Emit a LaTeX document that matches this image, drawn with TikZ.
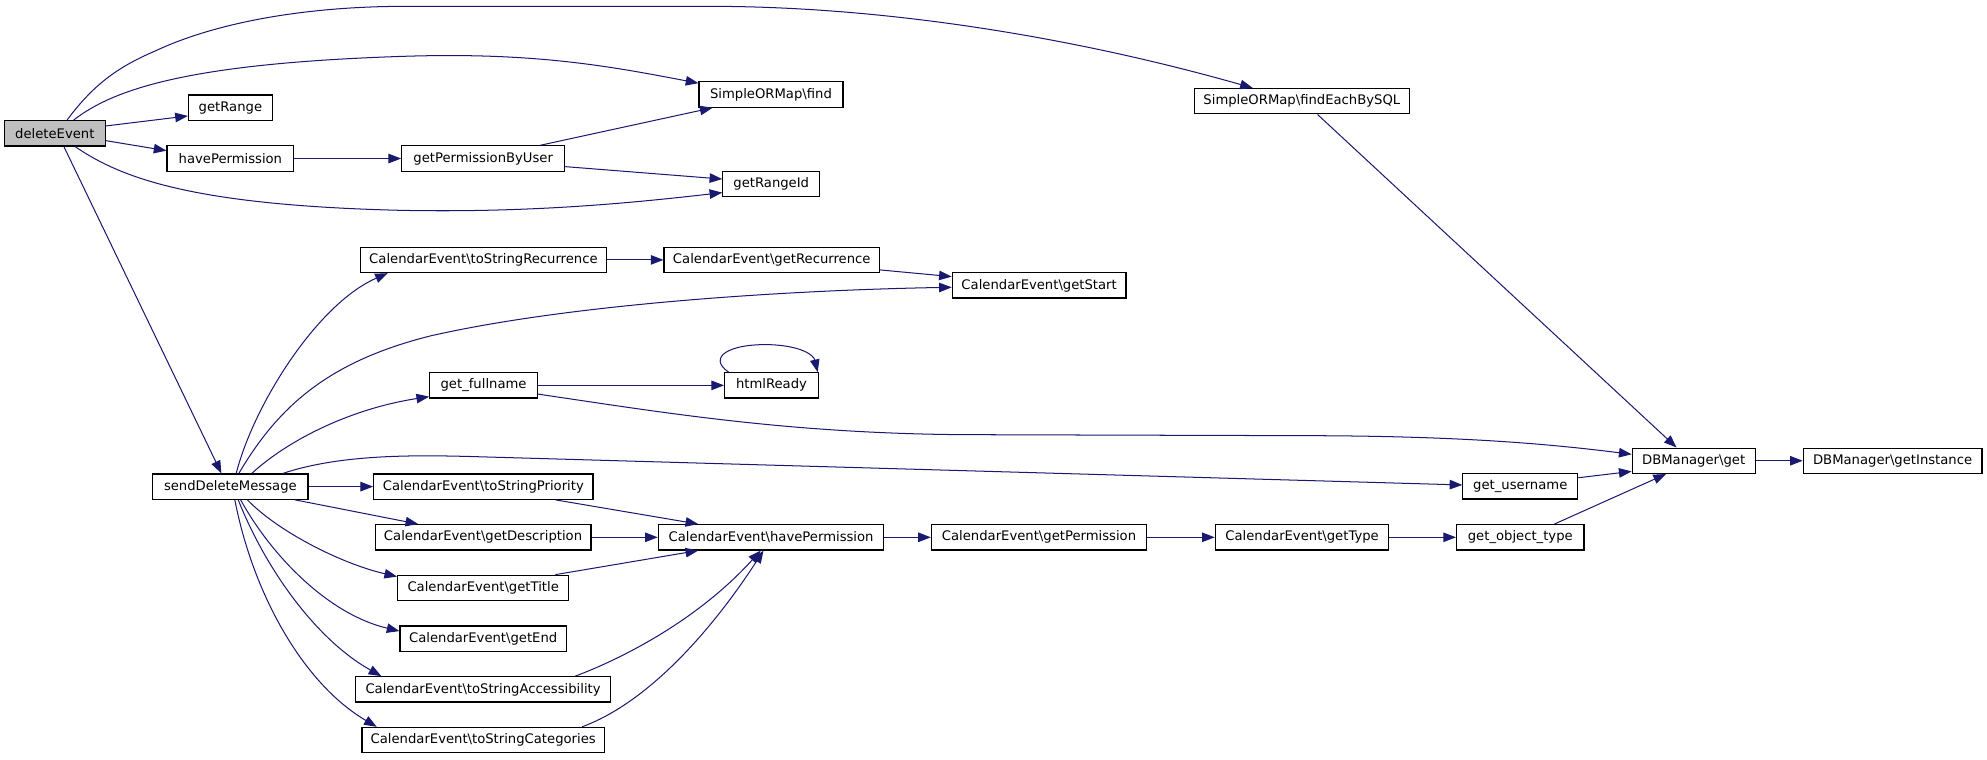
\documentclass[tikz,border=0pt]{standalone}
\usepackage{fontspec}
\setmainfont{DejaVu Sans}
\usetikzlibrary{arrows.meta}
\definecolor{edgeblue}{RGB}{25,25,112}
\definecolor{rootgray}{RGB}{191,191,191}
\tikzset{
  fn/.style={draw=black, line width=0.9pt, fill=white, rectangle, inner sep=0pt,
    minimum height=20pt, font=\fontsize{10.4}{12}\selectfont},
  rootfn/.style={fn, fill=rootgray},
  call/.style={draw=edgeblue, line width=0.8pt,
    -{Triangle[length=10pt,width=7.5pt]}, fill=none},
}
\begin{document}
\begin{tikzpicture}[x=1pt,y=-1pt]
\useasboundingbox (0,0) rectangle (1568,599);
% nodes
\node[rootfn, minimum width=79.6] (deleteEvent) at (43.3,105.2) {deleteEvent};
\node[fn, minimum width=66.2] (getRange) at (181.8,85) {getRange};
\node[fn, minimum width=100] (havePermission) at (181.8,125.1) {havePermission};
\node[fn, minimum width=128.6] (getPermissionByUser) at (381.3,125.1) {getPermissionByUser};
\node[fn, minimum width=113.6] (find) at (608.4,74.6) {SimpleORMap\textbackslash find};
\node[fn, minimum width=76.4] (getRangeId) at (608.6,145.1) {getRangeId};
\node[fn, minimum width=169.3] (findEach) at (1027.3,79.9) {SimpleORMap\textbackslash findEachBySQL};
\node[fn, minimum width=194] (toStrRec) at (381.5,205.1) {CalendarEvent\textbackslash toStringRecurrence};
\node[fn, minimum width=170] (getRec) at (609,205.1) {CalendarEvent\textbackslash getRecurrence};
\node[fn, minimum width=137] (getStart) at (820,225.2) {CalendarEvent\textbackslash getStart};
\node[fn, minimum width=85] (fullname) at (381.6,304.1) {get\_fullname};
\node[fn, minimum width=74] (htmlReady) at (608.8,304.1) {htmlReady};
\node[fn, minimum width=97] (dbget) at (1336.5,363.6) {DBManager\textbackslash get};
\node[fn, minimum width=141] (dbinst) at (1493.5,363.6) {DBManager\textbackslash getInstance};
\node[fn, minimum width=122.5] (sendDel) at (181.8,384) {sendDeleteMessage};
\node[fn, minimum width=173] (toStrPrio) at (381.4,384) {CalendarEvent\textbackslash toStringPriority};
\node[fn, minimum width=90.6] (username) at (1199.7,383.8) {get\_username};
\node[fn, minimum width=170.4] (getDesc) at (381.2,424) {CalendarEvent\textbackslash getDescription};
\node[fn, minimum width=178] (ceHave) at (608.5,424) {CalendarEvent\textbackslash havePermission};
\node[fn, minimum width=169.8] (getPerm) at (819.9,424) {CalendarEvent\textbackslash getPermission};
\node[fn, minimum width=137] (getType) at (1027.5,424) {CalendarEvent\textbackslash getType};
\node[fn, minimum width=100.6] (objType) at (1199.7,424) {get\_object\_type};
\node[fn, minimum width=135] (getTitle) at (381.3,463.9) {CalendarEvent\textbackslash getTitle};
\node[fn, minimum width=131.3] (getEnd) at (381.3,504) {CalendarEvent\textbackslash getEnd};
\node[fn, minimum width=200.8] (toStrAcc) at (381.2,544) {CalendarEvent\textbackslash toStringAccessibility};
\node[fn, minimum width=191.3] (toStrCat) at (381.3,584) {CalendarEvent\textbackslash toStringCategories};
% edges from deleteEvent
\draw[call] ([xshift=9.6pt]deleteEvent.north) .. controls (75,65) and (95,52) .. (123,40)
  .. controls (170,18) and (240,5) .. (320,5)
  -- (560,5) .. controls (700,5) and (850,30) .. ([xshift=-38.7pt]findEach.north);
\draw[call] ([xshift=14.8pt]deleteEvent.north) .. controls (90,70) and (150,50) .. (317,44.5)
  .. controls (420,41) and (480,52) .. ([yshift=-1.5pt]find.north west);
\draw[call] ([yshift=5.8pt]deleteEvent.east) -- ([yshift=-6.5pt]getRange.west);
\draw[call] ([yshift=-5.8pt]deleteEvent.east) -- ([yshift=6.2pt]havePermission.west);
\draw[call] ([xshift=15.9pt]deleteEvent.south) .. controls (95,140) and (150,162) .. (317,166)
  .. controls (420,168) and (500,160) .. ([yshift=-6.9pt]getRangeId.west);
\draw[call] ([xshift=7.1pt]deleteEvent.south) -- ([xshift=-7.1pt]sendDel.north);
\draw[call] (havePermission.east) -- (getPermissionByUser.west);
\draw[call] ([xshift=45pt]getPermissionByUser.north) -- ([xshift=-46.1pt]find.south);
\draw[call] ([yshift=-6.4pt]getPermissionByUser.east) -- ([yshift=3.8pt]getRangeId.west);
\draw[call] ([xshift=12.4pt]findEach.south) -- ([xshift=-13.5pt]dbget.north);
% edges from sendDeleteMessage upward
\draw[call] ([xshift=4.6pt]sendDel.north) .. controls (200,320) and (250,240) .. ([xshift=-75.5pt]toStrRec.south);
\draw[call] ([xshift=6.7pt]sendDel.north) .. controls (220,320) and (260,285) .. (340,265)
  .. controls (450,240) and (620,229) .. ([yshift=-1.5pt]getStart.west);
\draw[call] ([xshift=16.9pt]sendDel.north) .. controls (230,345) and (280,322) .. ([yshift=-8.9pt]fullname.west);
\draw[call] ([xshift=41.5pt]sendDel.north) .. controls (270,358) and (330,359) .. (380,360.5)
  -- ([yshift=1.1pt]username.west);
\draw[call] (fullname.east) -- (htmlReady.west);
\draw[call] ([xshift=3.6pt]htmlReady.north west) .. controls (558,282) and (575,271) .. (608,272)
  .. controls (632,273) and (642,280) .. ([xshift=-1pt]htmlReady.north east);
\draw[call] ([yshift=-6.9pt]fullname.east) .. controls (520,325) and (620,342) .. (760,343)
  -- (1030,343.8) .. controls (1150,344) and (1220,350) .. ([yshift=5.1pt]dbget.west);
\draw[call] (toStrRec.east) -- (getRec.west);
\draw[call] ([yshift=-7.9pt]getRec.east) -- ([yshift=6.9pt]getStart.west);
\draw[call] (dbget.east) -- (dbinst.west);
\draw[call] ([yshift=6.8pt]username.east) -- ([yshift=-8.4pt]dbget.west);
\draw[call] ([xshift=26.9pt]objType.north) -- ([xshift=-21.8pt]dbget.south);
% edges from sendDeleteMessage downward
\draw[call] (sendDel.east) -- (toStrPrio.west);
\draw[call] ([xshift=51pt]sendDel.south) -- ([xshift=-51.2pt]getDesc.north);
\draw[call] ([xshift=13.4pt]sendDel.south) .. controls (220,420) and (270,445) .. ([yshift=8.9pt]getTitle.west);
\draw[call] ([xshift=8.1pt]sendDel.south) .. controls (215,440) and (260,485) .. ([yshift=6pt]getEnd.west);
\draw[call] ([xshift=6.2pt]sendDel.south) .. controls (210,450) and (250,505) .. ([xshift=-80.3pt]toStrAcc.north);
\draw[call] ([xshift=3.5pt]sendDel.south) .. controls (200,470) and (240,540) .. ([xshift=-84pt]toStrCat.north);
% into CalendarEvent\havePermission
\draw[call] ([xshift=56.9pt]toStrPrio.south) -- ([xshift=-57.5pt]ceHave.north);
\draw[call] (getDesc.east) -- (ceHave.west);
\draw[call] ([xshift=57pt]getTitle.north) -- ([xshift=-57.5pt]ceHave.south);
\draw[call] ([xshift=72.8pt]toStrAcc.north) .. controls (490,520) and (550,490) .. ([xshift=-8.2pt]ceHave.south);
\draw[call] ([xshift=78pt]toStrCat.north) .. controls (510,555) and (560,500) .. ([xshift=-6pt]ceHave.south);
\draw[call] (ceHave.east) -- (getPerm.west);
\draw[call] (getPerm.east) -- (getType.west);
\draw[call] (getType.east) -- (objType.west);
\end{tikzpicture}
\end{document}
